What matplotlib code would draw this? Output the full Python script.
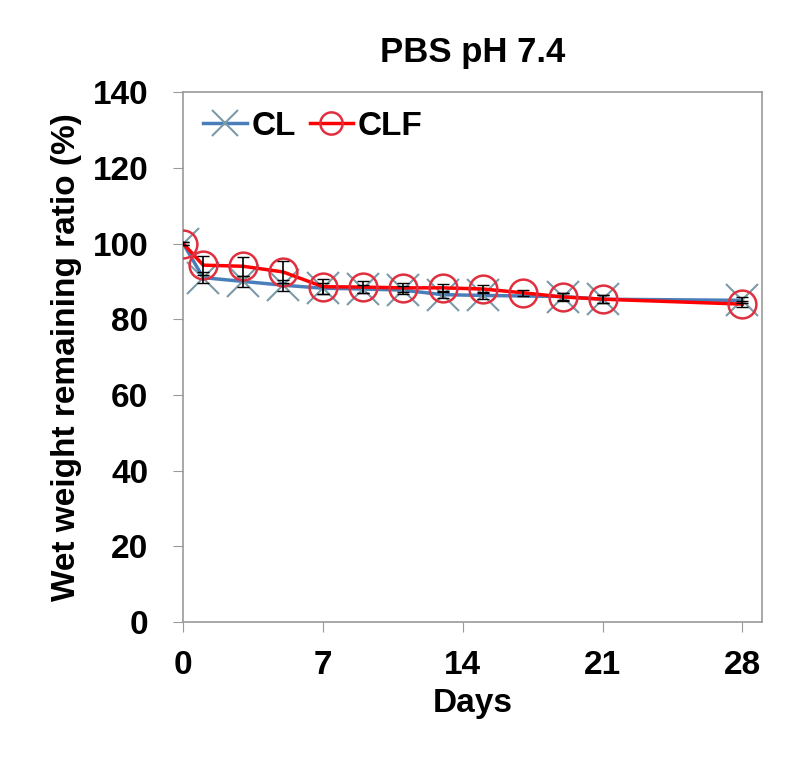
import matplotlib.pyplot as plt

days_cl = [0, 1, 3, 5, 7, 9, 11, 13, 15, 19, 21, 28]
cl = [100, 91, 90, 89, 88.2, 88, 87.7, 86.5, 86.3, 86, 85.3, 85]
cl_err = [0.5, 1.5, 1.5, 1.5, 1.5, 1.0, 1.0, 1.0, 1.0, 1.0, 1.0, 0.8]

days_clf = [0, 1, 3, 5, 7, 9, 11, 13, 15, 17, 19, 21, 28]
clf = [100, 94.3, 94, 92.5, 88.6, 88.5, 88.3, 88.3, 88, 87, 85.9, 85.3, 84]
clf_err = [0.5, 2.5, 2.5, 3.0, 2.0, 1.5, 1.2, 1.0, 1.0, 0.8, 1.0, 1.0, 0.8]

plt.rcParams['font.family'] = ['Liberation Sans', 'DejaVu Sans']
plt.rcParams['font.weight'] = 'bold'

fig = plt.figure(figsize=(8, 7.68), dpi=100)
ax = fig.add_axes([0.229, 0.19, 0.724, 0.69])

# lines + markers (used for legend)
ax.plot(days_cl, cl, color='#4a7ebb', lw=2.5, marker='x', ms=23,
        mec='#7a9aa8', mew=1.5, label='CL', zorder=2)
ax.plot(days_clf, clf, color='#ff0000', lw=2.5, marker='o', ms=20,
        mfc='none', mec='#e03040', mew=1.8, label='CLF', zorder=3)

# error bars
ax.errorbar(days_cl, cl, yerr=cl_err, fmt='none', ecolor='black',
            elinewidth=1.2, capsize=4, zorder=4)
ax.errorbar(days_clf, clf, yerr=clf_err, fmt='none', ecolor='black',
            elinewidth=1.2, capsize=4, zorder=4)

ax.set_xlim(0, 29)
ax.set_ylim(0, 140)
ax.set_xticks([0, 7, 14, 21, 28])
ax.set_yticks(range(0, 141, 20))
ax.tick_params(axis='both', labelsize=24, length=7, color='#999999')
ax.tick_params(axis='x', pad=13)
ax.tick_params(axis='y', pad=18)
for lab in ax.get_xticklabels() + ax.get_yticklabels():
    lab.set_fontweight('bold')
for s in ax.spines.values():
    s.set_color('#999999')
    s.set_linewidth(1.2)

ax.set_xlabel('Days', fontsize=24, fontweight='bold', labelpad=5)
ax.set_ylabel('Wet weight remaining ratio (%)', fontsize=24,
              fontweight='bold', labelpad=8)
ax.set_title('PBS pH 7.4', fontsize=25, fontweight='bold', pad=22)

leg = ax.legend(loc='upper left', bbox_to_anchor=(0.012, 0.99), ncol=2,
                frameon=False, fontsize=24, markerscale=0.8,
                handlelength=1.3, handletextpad=0.15, columnspacing=0.4,
                borderaxespad=0)
for t in leg.get_texts():
    t.set_fontweight('bold')

fig.savefig('out.png')
